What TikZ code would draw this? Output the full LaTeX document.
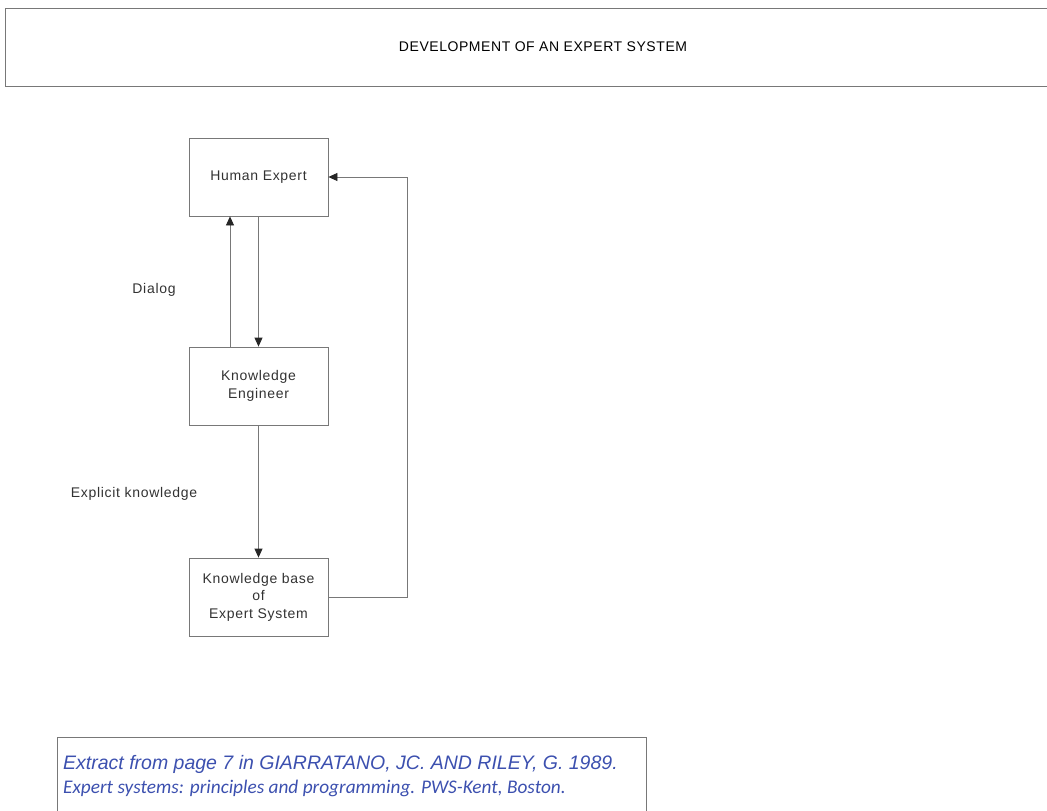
\documentclass[tikz,border=0pt]{standalone}
\usepackage{fontspec}
\setmainfont{Liberation Sans}
\newfontfamily\carl{Carlito}
\newfontfamily\spaced[LetterSpace=5]{Liberation Sans}
\newfontfamily\spacedt[LetterSpace=4]{Liberation Sans}
\usetikzlibrary{arrows.meta}
\definecolor{linegray}{RGB}{120,120,120}
\definecolor{txtgray}{RGB}{50,50,50}
\definecolor{citeblue}{RGB}{60,80,175}
\tikzset{
  box/.style={draw=linegray, line width=0.8pt, minimum width=139pt, minimum height=78pt, align=center, text=txtgray, font=\spaced\fontsize{14}{17.5}\selectfont, inner sep=0pt},
  arr/.style={draw=linegray, line width=0.8pt, -{Triangle[length=9pt,width=8pt,fill=black!85,color=black!85]}},
  lbl/.style={text=txtgray, font=\spaced\fontsize{14}{16}\selectfont, inner sep=0pt},
}
\begin{document}
\begin{tikzpicture}[x=1pt,y=-1pt]
\useasboundingbox (0,0) rectangle (1047,811);
% title frame
\draw[linegray, line width=0.8pt] (1047,8) -- (5,8) -- (5,86) -- (1047,86);
\node[font=\spacedt\fontsize{14}{16}\selectfont, text=black, inner sep=0pt] (title) at (543,47) {DEVELOPMENT OF AN EXPERT SYSTEM};
% boxes
\node[box] (HE) at (258.5,177) {Human Expert};
\node[box] (KE) at (258.5,386) {Knowledge\\Engineer};
\node[box] (KB) at (258.5,597) {Knowledge base\\of\\Expert System};
% connectors
\draw[arr] ([xshift=-28.5pt]KE.north) -- ([xshift=-28.5pt]HE.south);
\draw[arr] (HE.south) -- (KE.north);
\draw[arr] (KE.south) -- (KB.north);
\coordinate (fb) at (407,597);
\draw[arr] (KB.east) -- (fb) |- (HE.east);
% labels
\node[lbl] (dialog) at (154,290) {Dialog};
\node[lbl] (explicit) at (134,494) {Explicit knowledge};
% citation
\draw[linegray, line width=0.8pt] (57,811) -- (57,737) -- (646,737) -- (646,811);
\node[anchor=west, inner sep=0pt, text=citeblue, font=\fontsize{19.5}{22}\selectfont\itshape] (cite1) at (63,764) {Extract from page 7 in GIARRATANO, JC. AND RILEY, G. 1989.};
\node[anchor=west, inner sep=0pt, text=citeblue, font=\carl\fontsize{19.3}{22}\selectfont\itshape] (cite2) at (63,788) {Expert systems: principles and programming. PWS-Kent, Boston.};
\end{tikzpicture}
\end{document}
